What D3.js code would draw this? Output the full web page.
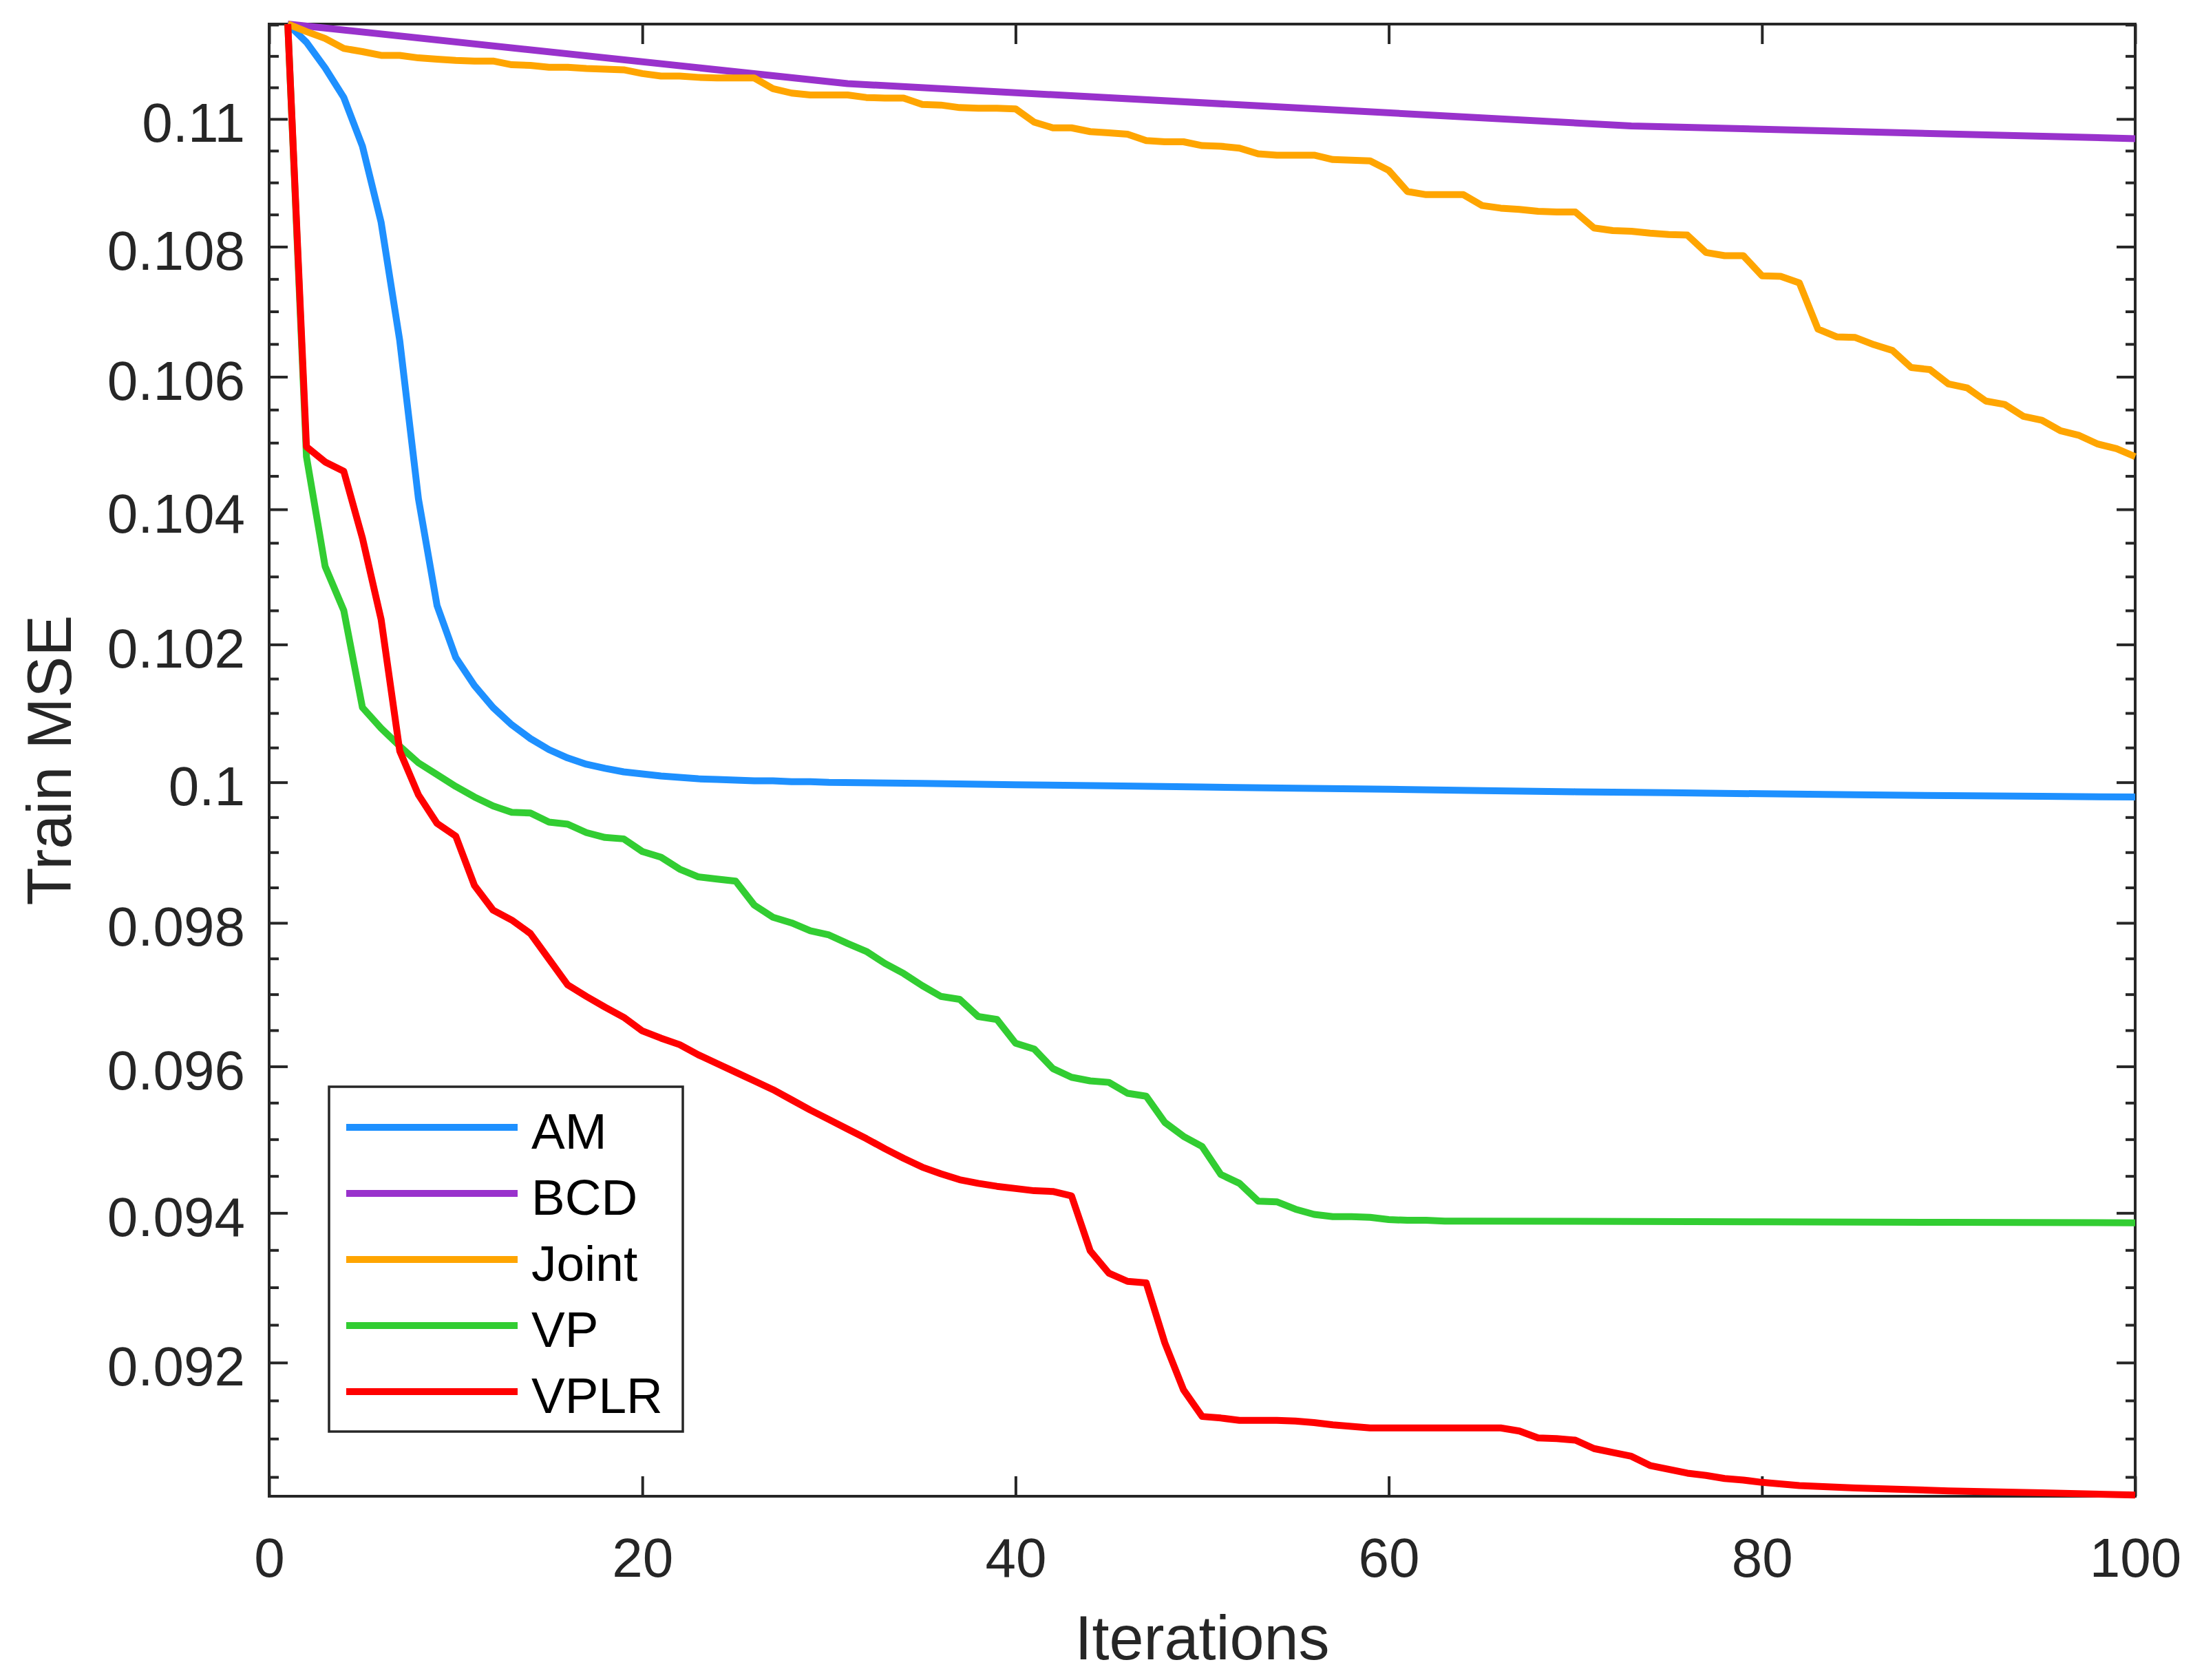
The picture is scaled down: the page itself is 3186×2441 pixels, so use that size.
<!DOCTYPE html>
<html>
<head>
<meta charset="utf-8">
<script src="https://cdn.jsdelivr.net/npm/d3@7"></script>
<style>
  html, body { margin: 0; padding: 0; background: #ffffff; }
  svg { display: block; }
</style>
</head>
<body>
<svg id="chart" width="3186" height="2441"></svg>
<script>
// ---------------- DATA ----------------
const seriesNames = ["AM", "BCD", "Joint", "VP", "VPLR"];
const seriesColors = ["#1E90FF", "#9932CC", "#FFA500", "#32CD32", "#FF0000"];

const xTickValues = [0, 20, 40, 60, 80, 100];
const xTickLabels = ["0", "20", "40", "60", "80", "100"];
const yTickValues = [0.092, 0.094, 0.096, 0.098, 0.1, 0.102, 0.104, 0.106, 0.108, 0.11];
const yTickLabels = ["0.092", "0.094", "0.096", "0.098", "0.1", "0.102", "0.104", "0.106", "0.108", "0.11"];
const xDomain = [0, 100];
const yDomain = [0.09025, 0.11151];

// AM: every iteration 1..30, then read every 5 iterations (smooth flat tail)
const amIter = d3.range(1, 31).concat([35, 40, 45, 50, 55, 60, 65, 70, 75, 80, 85, 90, 95, 100]);
const amMSE = [
  0.11151, 0.11122, 0.11081, 0.11034, 0.10957, 0.10838, 0.10655, 0.10416, 0.10257, 0.10181,
  0.10140, 0.10108, 0.10083, 0.10063, 0.10047, 0.10035, 0.10026, 0.10020, 0.10015, 0.10012,
  0.10009, 0.10007, 0.10005, 0.10004, 0.10003, 0.10002, 0.10002, 0.10001, 0.10001, 0.10000,
  0.099983, 0.099965, 0.099949, 0.099932, 0.099916, 0.099899, 0.099880, 0.099864, 0.099850,
  0.099835, 0.099821, 0.099808, 0.099798, 0.099788
];

// BCD: straight segments between these iterations
const bcdIter = [1, 31, 73, 100];
const bcdMSE = [0.11151, 0.11056, 0.10989, 0.10969];

// Joint: every iteration 1..100
const jointIter = d3.range(1, 101);
const jointMSE = [
  0.11151, 0.11139, 0.11128, 0.11112, 0.11107, 0.11101, 0.11101, 0.11097, 0.11095, 0.11093,
  0.11092, 0.11092, 0.11086, 0.11085, 0.11082, 0.11082, 0.11080, 0.11079, 0.11078, 0.11072,
  0.11068, 0.11068, 0.11066, 0.11065, 0.11065, 0.11065, 0.11048, 0.11041, 0.11038, 0.11038,
  0.11038, 0.11034, 0.11033, 0.11033, 0.11023, 0.11022, 0.11018, 0.11017, 0.11017, 0.11016,
  0.10995, 0.10986, 0.10986, 0.10980, 0.10978, 0.10976, 0.10966, 0.10964, 0.10964, 0.10958,
  0.10957, 0.10954, 0.10945, 0.10943, 0.10943, 0.10943, 0.10936, 0.10935, 0.10934, 0.10919,
  0.10886, 0.10881, 0.10881, 0.10881, 0.10864, 0.10860, 0.10858, 0.10855, 0.10854, 0.10854,
  0.10829, 0.10825, 0.10824, 0.10821, 0.10819, 0.10818, 0.10791, 0.10786, 0.10786, 0.10755,
  0.10754, 0.10744, 0.10673, 0.10661, 0.10660, 0.10649, 0.10640, 0.10614, 0.10611, 0.10589,
  0.10583, 0.10563, 0.10558, 0.10540, 0.10534, 0.10518, 0.10511, 0.10498, 0.10491, 0.10479
];

// VP: every iteration 1..64, then the flat tail
const vpIter = d3.range(1, 65).concat([70, 80, 90, 100]);
const vpMSE = [
  0.11151, 0.10479, 0.10315, 0.10250, 0.10108, 0.10078, 0.10052, 0.10028, 0.10011, 0.09994,
  0.09979, 0.09966, 0.09957, 0.09956, 0.09943, 0.09940, 0.09928, 0.09921, 0.09919, 0.09901,
  0.09893, 0.09876, 0.09865, 0.09862, 0.09859, 0.09825, 0.09808, 0.09800, 0.09789, 0.09783,
  0.09771, 0.09760, 0.09743, 0.09729, 0.09712, 0.09697, 0.09693, 0.09669, 0.09665, 0.09632,
  0.09624, 0.09597, 0.09585, 0.09580, 0.09578, 0.09563, 0.09559, 0.09523, 0.09504, 0.09490,
  0.09452, 0.09440, 0.09416, 0.09415, 0.09405, 0.09398, 0.09395, 0.09395, 0.09394, 0.09391,
  0.09390, 0.09390, 0.09389, 0.09389,
  0.093887, 0.093880, 0.093873, 0.093866
];

// VPLR: every iteration 1..80, then the slow tail
const vplrIter = d3.range(1, 81).concat([82, 85, 90, 95, 100]);
const vplrMSE = [
  0.11151, 0.10494, 0.10471, 0.10457, 0.10357, 0.10237, 0.10045, 0.09982, 0.09941, 0.09923,
  0.09853, 0.09818, 0.09804, 0.09785, 0.09749, 0.09713, 0.09697, 0.09682, 0.09668, 0.09649,
  0.09639, 0.09630, 0.09616, 0.09604, 0.09592, 0.09580, 0.09568, 0.09554, 0.09540, 0.09527,
  0.09514, 0.09501, 0.09487, 0.09474, 0.09462, 0.09453, 0.09445, 0.09440, 0.09436, 0.09433,
  0.09430, 0.09429, 0.09423, 0.09349, 0.09319, 0.09308, 0.09306, 0.09226, 0.09164, 0.09129,
  0.09127, 0.09124, 0.09124, 0.09124, 0.09123, 0.09121, 0.09118, 0.09116, 0.09114, 0.09114,
  0.09114, 0.09114, 0.09114, 0.09114, 0.09114, 0.09114, 0.09110, 0.09101, 0.09100, 0.09098,
  0.09087, 0.09082, 0.09077, 0.09065, 0.09060, 0.09055, 0.09052, 0.09048, 0.09046, 0.09043,
  0.090389, 0.090358, 0.090320, 0.090295, 0.090265
];

const seriesIters = [amIter, bcdIter, jointIter, vpIter, vplrIter];
const seriesValues = [amMSE, bcdMSE, jointMSE, vpMSE, vplrMSE];

const xLabel = "Iterations";
const yLabel = "Train MSE";

// ---------------- LAYOUT ----------------
const FONT = "'Liberation Sans', Arial, Helvetica, sans-serif";
const AX = "#262626";
const LINE_W = 10;
const plot = { left: 391, right: 3102, top: 35, bottom: 2174 };

const svg = d3.select("#chart");
svg.append("rect").attr("width", 3186).attr("height", 2441).attr("fill", "#ffffff");

const x = d3.scaleLinear().domain(xDomain).range([plot.left, plot.right]);
const y = d3.scaleLog().domain(yDomain).range([plot.bottom, plot.top]);

// minor y ticks (every 0.0005 between majors)
const minorY = d3.range(181, 224).map(k => k * 0.0005).filter(v =>
  v > yDomain[0] && v < yDomain[1] && !yTickValues.some(t => Math.abs(t - v) < 1e-9));

function styleAxis(g) {
  g.select(".domain").remove();
  g.selectAll(".tick line").attr("stroke", AX).attr("stroke-width", 4);
  g.selectAll(".tick text").attr("fill", AX).style("font-family", FONT).style("font-size", "80px");
}

// left axis with labels
const gLeft = svg.append("g").attr("transform", `translate(${plot.left},0)`)
  .call(d3.axisLeft(y).tickValues(yTickValues).tickFormat((d, i) => yTickLabels[i])
    .tickSizeInner(-27).tickSizeOuter(0).tickPadding(35));
styleAxis(gLeft);
gLeft.selectAll(".tick text").attr("dy", null).attr("y", 33);

// left minor
svg.append("g").attr("transform", `translate(${plot.left},0)`)
  .call(d3.axisLeft(y).tickValues(minorY).tickFormat("").tickSizeInner(-14).tickSizeOuter(0))
  .call(styleAxis);

// right axis (no labels)
svg.append("g").attr("transform", `translate(${plot.right},0)`)
  .call(d3.axisRight(y).tickValues(yTickValues).tickFormat("").tickSizeInner(-27).tickSizeOuter(0))
  .call(styleAxis);
svg.append("g").attr("transform", `translate(${plot.right},0)`)
  .call(d3.axisRight(y).tickValues(minorY).tickFormat("").tickSizeInner(-14).tickSizeOuter(0))
  .call(styleAxis);

// bottom axis
const gBottom = svg.append("g").attr("transform", `translate(0,${plot.bottom})`)
  .call(d3.axisBottom(x).tickValues(xTickValues).tickFormat((d, i) => xTickLabels[i])
    .tickSizeInner(-29).tickSizeOuter(0).tickPadding(0));
styleAxis(gBottom);
gBottom.selectAll(".tick text").attr("dy", null).attr("y", 117);

// top axis (no labels)
svg.append("g").attr("transform", `translate(0,${plot.top})`)
  .call(d3.axisTop(x).tickValues(xTickValues).tickFormat("").tickSizeInner(-29).tickSizeOuter(0))
  .call(styleAxis);

// box
svg.append("rect")
  .attr("x", plot.left).attr("y", plot.top)
  .attr("width", plot.right - plot.left).attr("height", plot.bottom - plot.top)
  .attr("fill", "none").attr("stroke", AX).attr("stroke-width", 4);

// lines
const line = d3.line().x(d => x(d[0])).y(d => y(d[1]));
seriesNames.forEach((name, k) => {
  const pts = seriesIters[k].map((it, j) => [it, seriesValues[k][j]]);
  svg.append("path")
    .datum(pts)
    .attr("d", line)
    .attr("fill", "none")
    .attr("stroke", seriesColors[k])
    .attr("stroke-width", LINE_W)
    .attr("stroke-linejoin", "round")
    .attr("stroke-linecap", "butt");
});

// axis titles
svg.append("text")
  .attr("x", (plot.left + plot.right) / 2).attr("y", 2411)
  .attr("text-anchor", "middle").attr("fill", AX)
  .style("font-family", FONT).style("font-size", "90px")
  .text(xLabel);

svg.append("text")
  .attr("transform", `translate(103,${(plot.top + plot.bottom) / 2}) rotate(-90)`)
  .attr("text-anchor", "middle").attr("fill", AX)
  .style("font-family", FONT).style("font-size", "90px")
  .text(yLabel);

// legend
const legend = { x: 478, y: 1579, w: 514, h: 501, row0: 1638, step: 96, l0: 503, l1: 752, tx: 772 };
const gL = svg.append("g");
gL.append("rect")
  .attr("x", legend.x).attr("y", legend.y).attr("width", legend.w).attr("height", legend.h)
  .attr("fill", "#ffffff").attr("stroke", AX).attr("stroke-width", 3.5);
seriesNames.forEach((name, k) => {
  const yy = legend.row0 + k * legend.step;
  gL.append("line")
    .attr("x1", legend.l0).attr("x2", legend.l1).attr("y1", yy).attr("y2", yy)
    .attr("stroke", seriesColors[k]).attr("stroke-width", LINE_W);
  gL.append("text")
    .attr("x", legend.tx).attr("y", yy + 31)
    .attr("fill", "#000000")
    .style("font-family", FONT).style("font-size", "73px")
    .text(name);
});
</script>
</body>
</html>
